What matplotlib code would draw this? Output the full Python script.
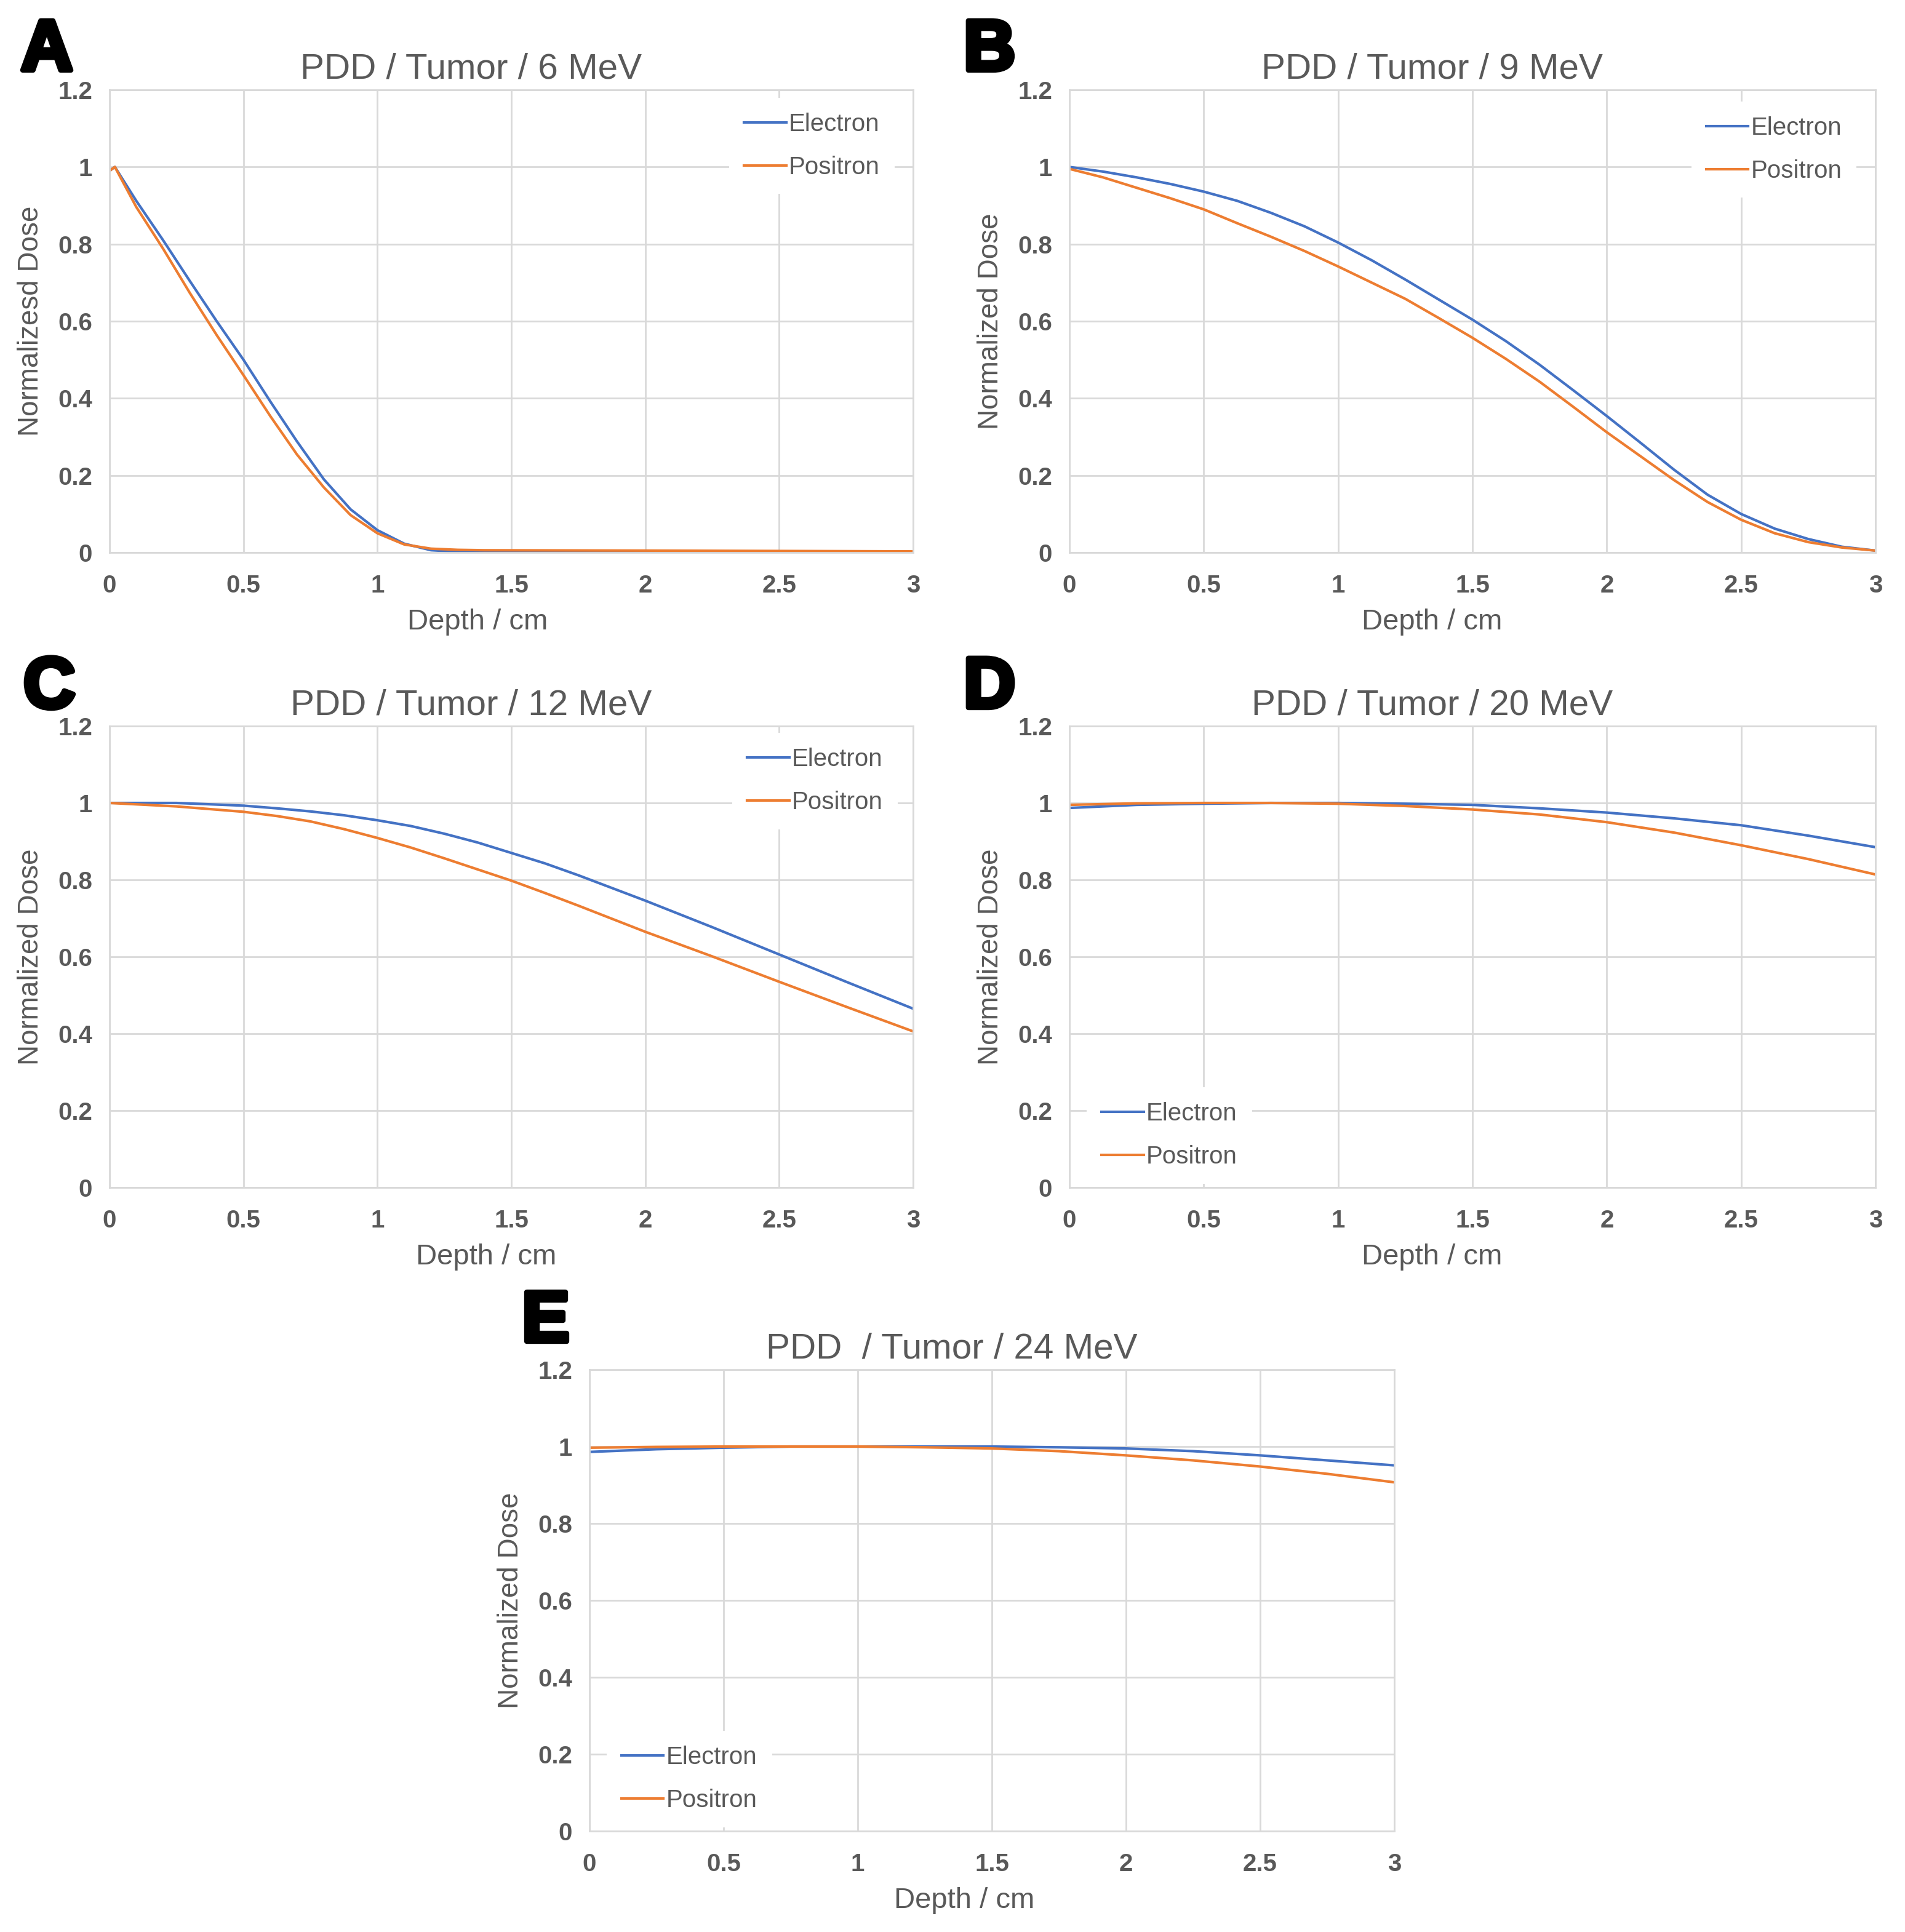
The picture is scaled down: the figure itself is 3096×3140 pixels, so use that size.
import numpy as np
import matplotlib
matplotlib.use("Agg")
import matplotlib.pyplot as plt
import matplotlib.patheffects as pe

plt.rcParams["font.family"] = ["Liberation Sans", "DejaVu Sans"]

BLUE = "#4472C4"
ORANGE = "#ED7D31"
GRAY_TXT = "#595959"
GRID = "#d9d9d9"

X_TICKS = [0, 0.5, 1, 1.5, 2, 2.5, 3]
X_TICK_LABELS = ["0", "0.5", "1", "1.5", "2", "2.5", "3"]
Y_TICKS = [0, 0.2, 0.4, 0.6, 0.8, 1.0, 1.2]
Y_TICK_LABELS = ["0", "0.2", "0.4", "0.6", "0.8", "1", "1.2"]
SERIES = ["Electron", "Positron"]

# Panel A - 6 MeV
depth_a = [0, 0.02, 0.1, 0.2, 0.3, 0.4, 0.5, 0.6, 0.7, 0.8, 0.9, 1.0, 1.1, 1.2, 1.3, 1.4, 2.0, 3.0]
dose_a_e = [0.99, 1.0, 0.912, 0.81, 0.704, 0.60, 0.50, 0.392, 0.288, 0.19, 0.112, 0.058, 0.023, 0.006, 0.002, 0.0, 0.0, 0.0]
dose_a_p = [0.99, 1.0, 0.896, 0.788, 0.673, 0.564, 0.46, 0.354, 0.254, 0.169, 0.097, 0.05, 0.021, 0.01, 0.007, 0.006, 0.005, 0.003]

# Panel B - 9 MeV (0.125 cm sampling)
depth_b = [0, 0.125, 0.25, 0.375, 0.5, 0.625, 0.75, 0.875, 1.0, 1.125, 1.25, 1.375, 1.5,
           1.625, 1.75, 1.875, 2.0, 2.125, 2.25, 2.375, 2.5, 2.625, 2.75, 2.875, 3.0]
dose_b_e = [1.0, 0.988, 0.973, 0.956, 0.936, 0.912, 0.881, 0.846, 0.804, 0.758, 0.708, 0.656, 0.604,
            0.548, 0.487, 0.421, 0.354, 0.285, 0.215, 0.15, 0.10, 0.062, 0.035, 0.015, 0.005]
dose_b_p = [0.995, 0.973, 0.946, 0.919, 0.89, 0.854, 0.819, 0.782, 0.742, 0.70, 0.658, 0.608, 0.557,
            0.502, 0.443, 0.378, 0.312, 0.25, 0.188, 0.131, 0.085, 0.05, 0.027, 0.013, 0.005]

# Panel C - 12 MeV
depth_c = [0, 0.25, 0.5, 0.625, 0.75, 0.875, 1.0, 1.125, 1.25, 1.375, 1.5, 1.625, 1.75, 1.875,
           2.0, 2.25, 2.5, 2.75, 3.0]
dose_c_e = [1.0, 1.0, 0.993, 0.986, 0.978, 0.968, 0.955, 0.94, 0.92, 0.897, 0.87, 0.843, 0.812, 0.779,
            0.746, 0.677, 0.606, 0.535, 0.465]
dose_c_p = [1.0, 0.991, 0.977, 0.966, 0.952, 0.932, 0.909, 0.884, 0.856, 0.827, 0.798, 0.766, 0.733, 0.699,
            0.665, 0.601, 0.535, 0.47, 0.406]

# Panels D/E - 0.25 cm sampling
depth_q = [0, 0.25, 0.5, 0.75, 1.0, 1.25, 1.5, 1.75, 2.0, 2.25, 2.5, 2.75, 3.0]

# Panel D - 20 MeV
dose_d_e = [0.987, 0.995, 0.998, 1.0, 1.0, 0.998, 0.995, 0.986, 0.975, 0.96, 0.942, 0.915, 0.885]
dose_d_p = [0.995, 0.999, 1.0, 1.0, 0.998, 0.992, 0.983, 0.97, 0.95, 0.923, 0.89, 0.854, 0.814]

# Panel E - 24 MeV
dose_e_e = [0.986, 0.993, 0.997, 1.0, 1.0, 1.0, 1.0, 0.998, 0.995, 0.988, 0.977, 0.964, 0.951]
dose_e_p = [0.997, 0.999, 1.0, 1.0, 1.0, 0.998, 0.995, 0.988, 0.977, 0.964, 0.948, 0.929, 0.907]

TITLES = ["PDD / Tumor / 6 MeV", "PDD / Tumor / 9 MeV", "PDD / Tumor / 12 MeV",
          "PDD / Tumor / 20 MeV", "PDD  / Tumor / 24 MeV"]
LETTERS = ["A", "B", "C", "D", "E"]
YLABELS = ["Normalizesd Dose", "Normalized Dose", "Normalized Dose", "Normalized Dose", "Normalized Dose"]

W, H = 3096, 3140


def px_rect(l, t, r, b):
    return [l / W, 1 - b / H, (r - l) / W, (b - t) / H]


# axes rectangles (left, top, right, bottom) in pixels
RECTS = [(178, 146, 1484, 898), (1738, 146, 3048, 898), (178, 1180, 1484, 1930),
         (1738, 1180, 3048, 1930), (958, 2226, 2266, 2976)]
LETTER_POS = [(34, 114), (1566, 114), (38, 1150), (1566, 1150), (848, 2180)]
LEGEND_POS = [(0.874, 0.879), (0.874, 0.871), (0.878, 0.881), (0.124, 0.113), (0.124, 0.113)]
XLABEL_X = [0.458, 0.45, 0.469, 0.45, 0.466]


def draw_panel(fig, i, xe, ye, xp, yp):
    ax = fig.add_axes(px_rect(*RECTS[i]))
    ax.plot(xe, ye, color=BLUE, lw=3, label=SERIES[0])
    ax.plot(xp, yp, color=ORANGE, lw=3, label=SERIES[1])
    ax.set_xlim(0, 3)
    ax.set_ylim(0, 1.2)
    ax.set_xticks(X_TICKS)
    ax.set_xticklabels(X_TICK_LABELS)
    ax.set_yticks(Y_TICKS)
    ax.set_yticklabels(Y_TICK_LABELS)
    ax.tick_params(length=0, labelsize=29, labelcolor=GRAY_TXT)
    ax.tick_params(axis="x", pad=25)
    ax.tick_params(axis="y", pad=20)
    for lab in ax.get_xticklabels() + ax.get_yticklabels():
        lab.set_fontweight("bold")
    ax.grid(True, color=GRID, lw=2)
    ax.set_axisbelow(True)
    for s in ax.spines.values():
        s.set_color(GRID)
        s.set_linewidth(2)
    ax.set_title(TITLES[i], fontsize=42, color=GRAY_TXT, x=0.45, pad=13)
    ax.set_xlabel("Depth / cm", fontsize=34, color=GRAY_TXT)
    ax.xaxis.set_label_coords(XLABEL_X[i], -0.121)
    ax.set_ylabel(YLABELS[i], fontsize=33, color=GRAY_TXT)
    ax.yaxis.set_label_coords(-0.081, 0.5)
    leg = ax.legend(loc="center", bbox_to_anchor=LEGEND_POS[i], fontsize=29, frameon=True,
                    facecolor="white", edgecolor="none", framealpha=1, fancybox=False,
                    handlelength=1.7, handletextpad=0.1, labelspacing=0.8, borderpad=0.6)
    for t in leg.get_texts():
        t.set_color(GRAY_TXT)
    lx, ly = LETTER_POS[i]
    fig.text(lx / W, 1 - ly / H, LETTERS[i], fontsize=84, fontweight="bold", color="black",
             ha="left", va="baseline",
             path_effects=[pe.withStroke(linewidth=6, foreground="black")])
    return ax


fig = plt.figure(figsize=(W / 100, H / 100), dpi=100)
draw_panel(fig, 0, depth_a, dose_a_e, depth_a, dose_a_p)
draw_panel(fig, 1, depth_b, dose_b_e, depth_b, dose_b_p)
draw_panel(fig, 2, depth_c, dose_c_e, depth_c, dose_c_p)
draw_panel(fig, 3, depth_q, dose_d_e, depth_q, dose_d_p)
draw_panel(fig, 4, depth_q, dose_e_e, depth_q, dose_e_p)
fig.savefig("out.png", dpi=100, facecolor="white")
plt.close(fig)
